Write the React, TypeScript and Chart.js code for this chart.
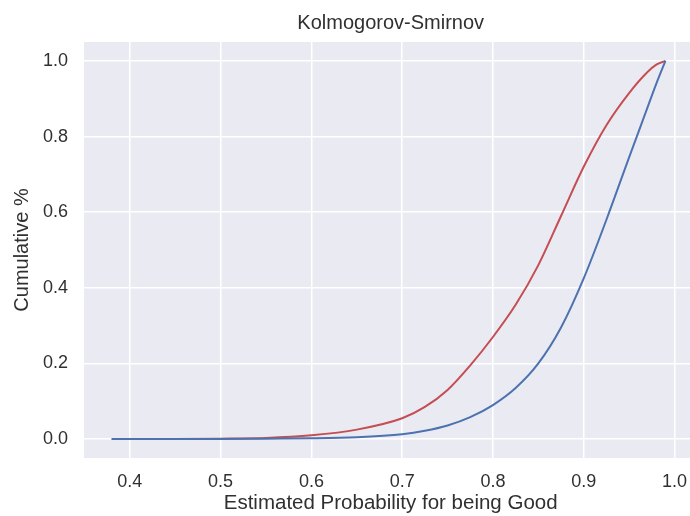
import React, { useEffect, useRef } from "react";
import { Chart, registerables } from "chart.js";

Chart.register(...registerables);

// Estimated probability for being Good (x values)
const probX = [0.38, 0.45, 0.5, 0.55, 0.6, 0.65, 0.7, 0.725, 0.75, 0.775, 0.8, 0.825, 0.85, 0.875, 0.9, 0.925, 0.95, 0.97, 0.98, 0.99];
// Cumulative % of the "bad" population (red)
const badCum = [0, 0, 0.001, 0.003, 0.01, 0.025, 0.055, 0.085, 0.13, 0.195, 0.27, 0.355, 0.46, 0.59, 0.72, 0.83, 0.915, 0.97, 0.99, 1.0];
// Cumulative % of the "good" population (blue)
const goodCum = [0, 0, 0, 0.001, 0.002, 0.005, 0.013, 0.022, 0.036, 0.058, 0.09, 0.135, 0.2, 0.295, 0.425, 0.58, 0.745, 0.875, 0.94, 1.0];

const xTicks = [0.4, 0.5, 0.6, 0.7, 0.8, 0.9, 1.0];
const yTicks = [0.0, 0.2, 0.4, 0.6, 0.8, 1.0];
const chartTitle = "Kolmogorov-Smirnov";

const FONT = '"Liberation Sans", Arial, sans-serif';
const TEXT = "#303030";

const bgPlugin = {
  id: "plotBg",
  beforeDraw(chart: any) {
    const { ctx, chartArea, width, height } = chart;
    ctx.save();
    ctx.fillStyle = "#ffffff";
    ctx.fillRect(0, 0, width, height);
    ctx.fillStyle = "#EAEAF2";
    ctx.fillRect(chartArea.left, chartArea.top, chartArea.right - chartArea.left, chartArea.bottom - chartArea.top);
    ctx.restore();
  },
  afterDraw(chart: any) {
    const { ctx, chartArea } = chart;
    ctx.save();
    ctx.fillStyle = TEXT;
    ctx.font = `20px ${FONT}`;
    ctx.textAlign = "center";
    ctx.textBaseline = "middle";
    ctx.fillText(chartTitle, (chartArea.left + chartArea.right) / 2, 23);
    ctx.restore();
  },
};

export default function App() {
  const ref = useRef<HTMLCanvasElement | null>(null);

  useEffect(() => {
    if (!ref.current) return;
    const toPts = (ys: number[]) => probX.map((x, i) => ({ x, y: ys[i] }));
    const chart = new Chart(ref.current, {
      type: "line",
      data: {
        datasets: [
          {
            label: "Good",
            data: toPts(goodCum),
            borderColor: "#4C72B0",
            borderWidth: 2,
            pointRadius: 0,
            cubicInterpolationMode: "monotone",
            fill: false,
          },
          {
            label: "Bad",
            data: toPts(badCum),
            borderColor: "#C44E52",
            borderWidth: 2,
            pointRadius: 0,
            cubicInterpolationMode: "monotone",
            fill: false,
          },
        ],
      },
      options: {
        responsive: false,
        animation: false,
        layout: { padding: { top: 42, left: 0, right: 0, bottom: 0 } },
        plugins: {
          legend: { display: false },
          tooltip: { enabled: false },
          title: { display: false },
        },
        scales: {
          x: {
            type: "linear",
            min: 0.3495,
            max: 1.0252,
            afterBuildTicks: (scale: any) => {
              scale.ticks = xTicks.map((v) => ({ value: v }));
            },
            afterFit: (scale: any) => {
              scale.height = 58;
            },
            grid: { color: "#ffffff", lineWidth: 1.5, drawTicks: false },
            border: { display: false },
            ticks: {
              color: TEXT,
              padding: 13,
              font: { family: FONT, size: 18 },
              maxRotation: 0,
              callback: (v: any) => Number(v).toFixed(1),
            },
            title: {
              display: true,
              text: "Estimated Probability for being Good",
              color: TEXT,
              font: { family: FONT, size: 20.5 },
              padding: { top: 2, bottom: 0 },
            },
          },
          y: {
            type: "linear",
            min: -0.05,
            max: 1.05,
            afterBuildTicks: (scale: any) => {
              scale.ticks = yTicks.map((v) => ({ value: v }));
            },
            afterFit: (scale: any) => {
              scale.width = 84;
            },
            grid: { color: "#ffffff", lineWidth: 1.5, drawTicks: false },
            border: { display: false },
            ticks: {
              color: TEXT,
              padding: 16,
              font: { family: FONT, size: 18 },
              callback: (v: any) => Number(v).toFixed(1),
            },
            title: {
              display: true,
              text: "Cumulative %",
              color: TEXT,
              font: { family: FONT, size: 20 },
              padding: { top: 10, bottom: 0 },
            },
          },
        },
      },
      plugins: [bgPlugin],
    });
    return () => chart.destroy();
  }, []);

  return (
    <div style={{ position: "absolute", left: 0, top: 0, width: 690, height: 516, overflow: "hidden", background: "#fff" }}>
      <canvas ref={ref} width={700} height={516} style={{ width: 700, height: 516, display: "block" }} />
    </div>
  );
}
